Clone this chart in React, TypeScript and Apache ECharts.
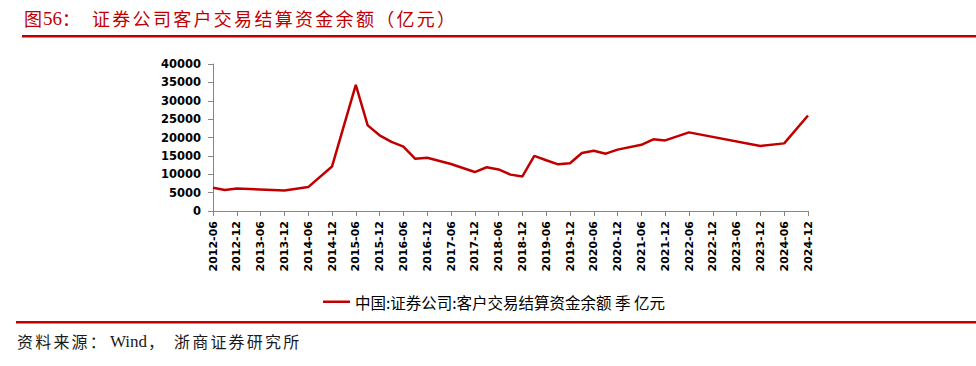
import React, { useEffect, useRef } from "react";
import * as echarts from "echarts";

const categories: string[] = [
  "2012-06", "2012-09", "2012-12",
  "2013-03", "2013-06", "2013-09", "2013-12",
  "2014-03", "2014-06", "2014-09", "2014-12",
  "2015-03", "2015-06", "2015-09", "2015-12",
  "2016-03", "2016-06", "2016-09", "2016-12",
  "2017-03", "2017-06", "2017-09", "2017-12",
  "2018-03", "2018-06", "2018-09", "2018-12",
  "2019-03", "2019-06", "2019-09", "2019-12",
  "2020-03", "2020-06", "2020-09", "2020-12",
  "2021-03", "2021-06", "2021-09", "2021-12",
  "2022-03", "2022-06", "2022-09", "2022-12",
  "2023-03", "2023-06", "2023-09", "2023-12",
  "2024-03", "2024-06", "2024-09", "2024-12",
];

const balance: (number | null)[] = [
  6300, 5700, 6100,
  null, null, null, 5600,
  null, 6500, null, 12100,
  null, 34300, 23300, 20600,
  18800, 17500, 14200, 14500,
  null, 12800, null, 10600,
  11900, 11300, 9900, 9400,
  15000, 13800, 12700, 13000,
  15800, 16400, 15600, 16700,
  null, 18000, 19500, 19200,
  null, 21400, null, null,
  null, null, null, 17700,
  null, 18400, null, 26000,
];

const yTicks = { min: 0, max: 40000, interval: 5000 };

const seriesName = "中国:证券公司:客户交易结算资金余额 季 亿元";
const titlePrefix = "图";
const titleNum = "56";
const titleColon = "：";
const titleMain = "证券公司客户交易结算资金余额（亿元）";
const srcA = "资料来源：";
const srcWind = "Wind";
const srcComma = "，";
const srcB = "浙商证券研究所";

const RED = "#C00000";
const SERIF = "'Liberation Serif', 'DejaVu Serif', 'Noto Sans CJK SC', serif";
const CJK = "'Noto Sans CJK SC', sans-serif";

function charTexts(str: string, x0: number, step: number, y: number, size: number, color: string, font: string) {
  return Array.from(str).map((ch, i) => ({
    type: "text",
    x: x0 + i * step,
    y,
    style: { text: ch, fill: color, font: `${size}px ${font}`, textVerticalAlign: "middle" },
  }));
}

export default function App() {
  const ref = useRef<HTMLDivElement>(null);
  useEffect(() => {
    if (!ref.current) return;
    const chart = echarts.init(ref.current, null, { renderer: "svg" });
    const graphics: any[] = [
      ...charTexts(titlePrefix, 24, 20, 18, 18, RED, CJK),
      { type: "text", x: 43, y: 18, style: { text: titleNum, fill: RED, font: `19px ${SERIF}`, textVerticalAlign: "middle" } },
      ...charTexts(titleColon, 62, 20, 18, 18, RED, CJK),
      ...charTexts(titleMain, 92, 20.3, 18, 18, RED, CJK),
      { type: "rect", shape: { x: 22, y: 35, width: 954, height: 2.5 }, style: { fill: RED } },
      { type: "rect", shape: { x: 16, y: 321, width: 960, height: 2.5 }, style: { fill: RED } },
      ...charTexts(srcA, 17, 18.2, 341, 16, "#1a1a1a", CJK),
      { type: "text", x: 110, y: 341, style: { text: srcWind, fill: "#1a1a1a", font: `17px ${SERIF}`, textVerticalAlign: "middle" } },
      ...charTexts(srcComma, 148, 18.2, 341, 16, "#1a1a1a", CJK),
      ...charTexts(srcB, 174, 18.2, 341, 16, "#1a1a1a", CJK),
    ];
    chart.setOption({
      animation: false,
      backgroundColor: "#ffffff",
      grid: { left: 213, right: 168, top: 64, bottom: 155, containLabel: false },
      legend: {
        data: [seriesName],
        left: 318,
        top: 289,
        icon: "rect",
        itemWidth: 27,
        itemHeight: 2.5,
        itemGap: 4,
        textStyle: { fontFamily: CJK, fontSize: 15.5, color: "#000" },
      },
      xAxis: {
        type: "category",
        data: categories,
        boundaryGap: false,
        axisLine: { lineStyle: { color: "#868686", width: 1 } },
        axisTick: { interval: 1, length: 5, lineStyle: { color: "#868686" } },
        axisLabel: {
          interval: 1,
          rotate: 90,
          margin: 10,
          color: "#000",
          fontWeight: "bold",
          fontSize: 11,
          fontFamily: "'DejaVu Sans', sans-serif",
        },
        splitLine: { show: false },
      },
      yAxis: {
        type: "value",
        min: yTicks.min,
        max: yTicks.max,
        interval: yTicks.interval,
        axisLine: { show: true, lineStyle: { color: "#868686", width: 1 } },
        axisTick: { show: true, length: 5, lineStyle: { color: "#868686" } },
        axisLabel: {
          margin: 12,
          color: "#000",
          fontWeight: "bold",
          fontSize: 11.5,
          fontFamily: "'DejaVu Sans', sans-serif",
          formatter: (v: number) => String(v),
        },
        splitLine: { show: false },
      },
      series: [
        {
          name: seriesName,
          type: "line",
          data: balance,
          connectNulls: true,
          symbol: "none",
          lineStyle: { color: RED, width: 2.5 },
          itemStyle: { color: RED },
        },
      ],
      graphic: graphics,
    });
    return () => chart.dispose();
  }, []);
  return (
    <div
      ref={ref}
      style={{ position: "fixed", left: 0, top: 0, width: 976, height: 366, background: "#fff" }}
    />
  );
}
